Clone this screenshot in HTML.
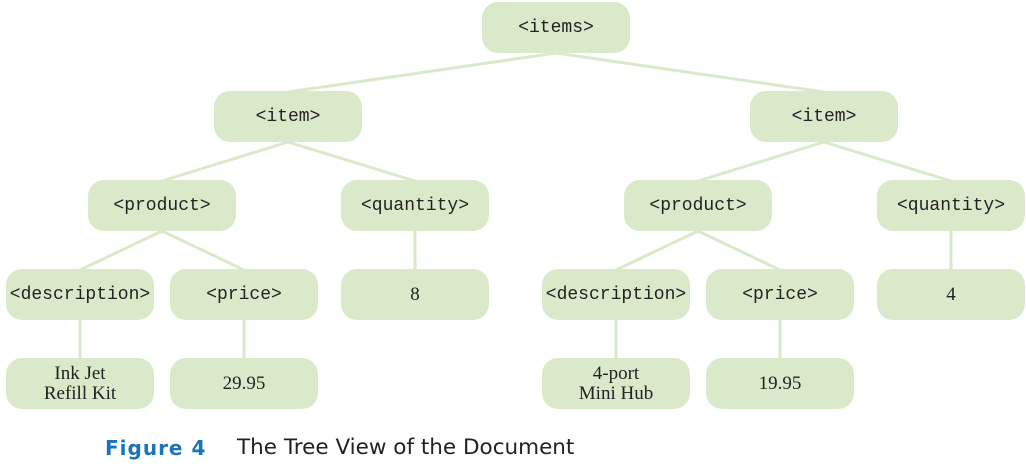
<!DOCTYPE html>
<html><head><meta charset="utf-8"><style>
body{margin:0;background:#fff;width:1026px;height:468px;position:relative;overflow:hidden}
.n{position:absolute;width:148px;height:51px;background:#dbe9cb;border-radius:16px;display:flex;align-items:center;justify-content:center;text-align:center}
.t{font-family:"Liberation Mono","DejaVu Sans Mono",monospace;font-size:18px;color:#222}
.v{font-family:"Liberation Serif",serif;font-size:19px;line-height:20px;color:#222}
svg{position:absolute;left:0;top:0}
.cap{position:absolute;top:436px;font-family:"DejaVu Sans","Liberation Sans",sans-serif;font-size:20px}
</style></head><body>
<svg width="1026" height="468"><g stroke="#dbe9cb" stroke-width="3" fill="none">
<line x1="556" y1="53" x2="288" y2="92"/><line x1="556" y1="53" x2="824" y2="92"/>
<line x1="288" y1="142" x2="162" y2="181"/><line x1="288" y1="142" x2="415" y2="181"/>
<line x1="824" y1="142" x2="698" y2="181"/><line x1="824" y1="142" x2="951" y2="181"/>
<line x1="162" y1="231" x2="80" y2="270"/><line x1="162" y1="231" x2="244" y2="270"/>
<line x1="698" y1="231" x2="616" y2="270"/><line x1="698" y1="231" x2="780" y2="270"/>
<line x1="415" y1="231" x2="415" y2="270"/><line x1="951" y1="231" x2="951" y2="270"/>
<line x1="80" y1="320" x2="80" y2="359"/><line x1="244" y1="320" x2="244" y2="359"/>
<line x1="616" y1="320" x2="616" y2="359"/><line x1="780" y1="320" x2="780" y2="359"/>
</g></svg>
<div class="n t" style="left:482px;top:2px">&lt;items&gt;</div>
<div class="n t" style="left:214px;top:91px">&lt;item&gt;</div>
<div class="n t" style="left:750px;top:91px">&lt;item&gt;</div>
<div class="n t" style="left:88px;top:180px">&lt;product&gt;</div>
<div class="n t" style="left:341px;top:180px">&lt;quantity&gt;</div>
<div class="n t" style="left:624px;top:180px">&lt;product&gt;</div>
<div class="n t" style="left:877px;top:180px">&lt;quantity&gt;</div>
<div class="n t" style="left:6px;top:269px">&lt;description&gt;</div>
<div class="n t" style="left:170px;top:269px">&lt;price&gt;</div>
<div class="n v" style="left:341px;top:269px">8</div>
<div class="n t" style="left:542px;top:269px">&lt;description&gt;</div>
<div class="n t" style="left:706px;top:269px">&lt;price&gt;</div>
<div class="n v" style="left:877px;top:269px">4</div>
<div class="n v" style="left:6px;top:358px">Ink Jet<br>Refill Kit</div>
<div class="n v" style="left:170px;top:358px">29.95</div>
<div class="n v" style="left:542px;top:358px">4-port<br>Mini Hub</div>
<div class="n v" style="left:706px;top:358px">19.95</div>
<div class="cap" style="left:105px;color:#1a75bb;font-weight:bold;letter-spacing:1px">Figure 4</div>
<div class="cap" style="left:237px;color:#222;font-size:21.5px;top:435px">The Tree View of the Document</div>
</body></html>
